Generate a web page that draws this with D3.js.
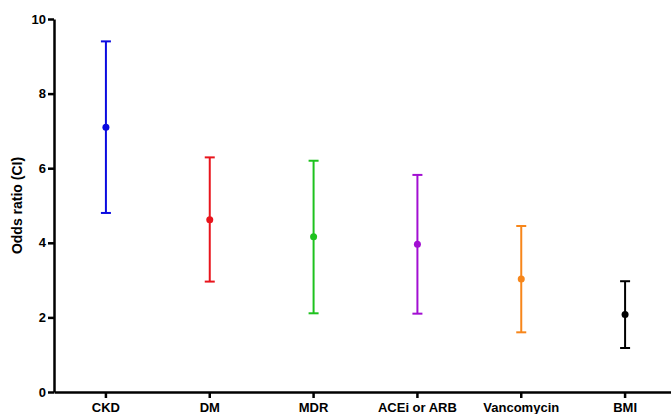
<!DOCTYPE html>
<html>
<head>
<meta charset="utf-8">
<script src="https://cdn.jsdelivr.net/npm/d3@7"></script>
<style>
  body { margin: 0; background: #fff; }
  svg { display: block; font-family: "Liberation Sans", Arial, sans-serif; }
  .axis path, .axis line { stroke: #000; stroke-width: 2.5px; }
  .axis text { font-size: 13px; font-weight: bold; fill: #000; }
</style>
</head>
<body>
<div id="chart"></div>
<script>
// data
const categories = ['CKD', 'DM', 'MDR', 'ACEi or ARB', 'Vancomycin', 'BMI'];
const oddsRatio = [7.1, 4.62, 4.16, 3.96, 3.03, 2.08];
const ciLow = [4.8, 2.96, 2.11, 2.1, 1.6, 1.18];
const ciHigh = [9.4, 6.29, 6.2, 5.82, 4.45, 2.97];
const colors = ['#0a0ae0', '#e8141c', '#1ec21e', '#a20fd2', '#f7861a', '#000000'];
const yTicks = [0, 2, 4, 6, 8, 10];

const width = 671,
      height = 414,
      margins = { top: 19, right: -6, bottom: 22, left: 54 };

const innerW = width - margins.left - margins.right,
      innerH = height - margins.top - margins.bottom;

const rows = categories.map((c, i) => ({
  name: c, or: oddsRatio[i], lo: ciLow[i], hi: ciHigh[i], color: colors[i]
}));

const xScale = d3.scaleBand()
  .domain(categories)
  .range([0, innerW]);

const yScale = d3.scaleLinear()
  .domain([0, 10])
  .range([innerH, 0]);

const $svg = d3.select('#chart').append('svg')
  .attr('width', width)
  .attr('height', height);

const $g = $svg.append('g')
  .attr('transform', `translate(${margins.left}, ${margins.top})`);

// axes
$g.append('g')
  .classed('axis', true)
  .call(d3.axisLeft(yScale).tickValues(yTicks).tickSize(6).tickPadding(2).tickSizeOuter(0));

$g.append('g')
  .classed('axis', true)
  .attr('transform', `translate(0, ${innerH})`)
  .call(d3.axisBottom(xScale).tickSize(6).tickPadding(5).tickSizeOuter(0));

$svg.append('text')
  .attr('transform', `translate(22, ${margins.top + innerH / 2}) rotate(-90)`)
  .attr('text-anchor', 'middle')
  .style('font-size', '14px')
  .style('font-weight', 'bold')
  .text('Odds ratio (CI)');

// error bars
const cx = d => xScale(d.name) + xScale.bandwidth() / 2;
const capW = 5;

const $bars = $g.selectAll('g.bar')
  .data(rows)
  .enter()
  .append('g')
  .classed('bar', true)
  .style('stroke', d => d.color)
  .style('fill', d => d.color);

$bars.append('line')
  .attr('x1', cx).attr('x2', cx)
  .attr('y1', d => yScale(d.lo)).attr('y2', d => yScale(d.hi))
  .style('stroke-width', 2);

$bars.append('line')
  .attr('x1', d => cx(d) - capW).attr('x2', d => cx(d) + capW)
  .attr('y1', d => yScale(d.hi)).attr('y2', d => yScale(d.hi))
  .style('stroke-width', 2);

$bars.append('line')
  .attr('x1', d => cx(d) - capW).attr('x2', d => cx(d) + capW)
  .attr('y1', d => yScale(d.lo)).attr('y2', d => yScale(d.lo))
  .style('stroke-width', 2);

$bars.append('circle')
  .attr('cx', cx)
  .attr('cy', d => yScale(d.or))
  .attr('r', 3.5)
  .style('stroke', 'none');
</script>
</body>
</html>
